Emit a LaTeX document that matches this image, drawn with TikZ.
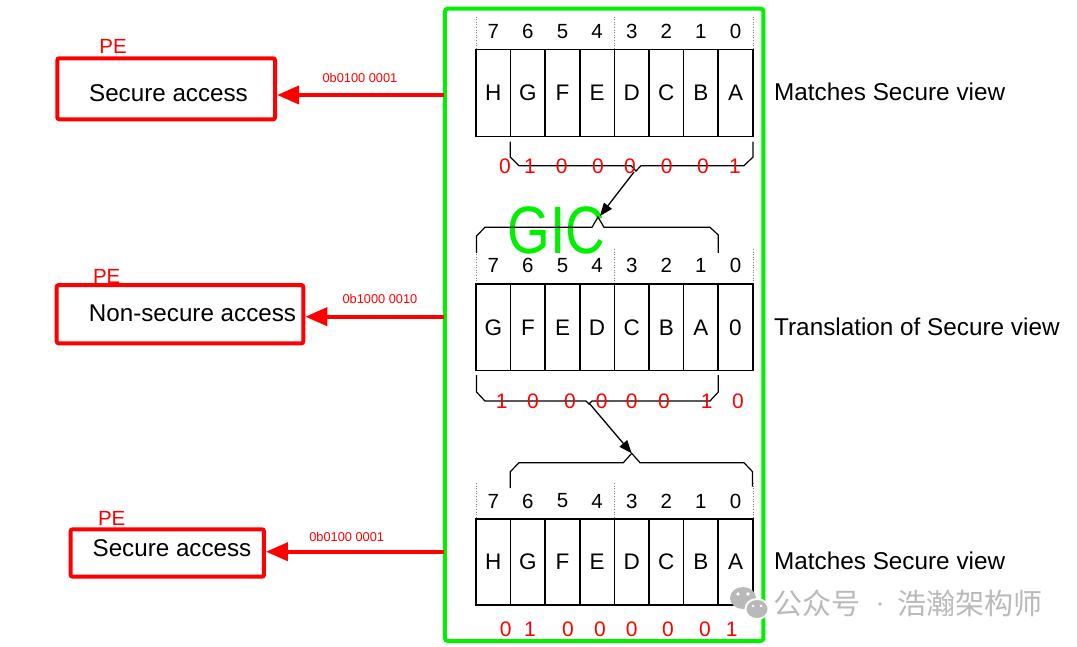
\documentclass[tikz,border=0pt]{standalone}
\usepackage{fontspec}
\setmainfont{Liberation Sans}
\newfontfamily\cjkfont{Noto Sans CJK SC}
\usetikzlibrary{arrows.meta}
\definecolor{gicgreen}{RGB}{0,240,0}
\definecolor{pered}{RGB}{255,0,0}
\definecolor{wmgray}{RGB}{185,185,185}
\tikzset{
  cell/.style={draw=black, line width=1.5pt, minimum width=34.6pt, minimum height=87pt, inner sep=0pt, font=\fontsize{22.5}{22.5}\selectfont},
  bitnum/.style={inner sep=0pt, font=\fontsize{20.5}{20.5}\selectfont},
  bitval/.style={inner sep=0pt, text=pered, font=\fontsize{21}{21}\selectfont},
  pebox/.style={draw=pered, line width=4pt, rounded corners=2pt, inner sep=0pt},
  petext/.style={font=\fontsize{24.2}{24.2}\selectfont, inner sep=0pt},
  pelabel/.style={text=pered, font=\fontsize{20.5}{20.5}\selectfont, inner sep=0pt},
  vallabel/.style={text=pered, font=\fontsize{12.8}{12.8}\selectfont, inner sep=0pt},
  view/.style={font=\fontsize{24.3}{24.3}\selectfont, anchor=west, inner sep=0pt},
  brace/.style={draw=black, line width=1.2pt, line join=miter},
  guide/.style={draw=gray, line width=0.6pt, dotted},
  redarrow/.style={draw=pered, line width=4pt, -{Triangle[length=22pt,width=18pt]}},
  blkarrow/.style={draw=black, line width=1.3pt, -{Triangle[length=13pt,width=10pt]}},
  wm/.style={text=wmgray, inner sep=0pt, font=\cjkfont\fontsize{29}{29}\selectfont},
}
\begin{document}
\begin{tikzpicture}[x=1pt,y=-1pt]
\useasboundingbox (0,0) rectangle (1077,647);

% GIC container
\node[draw=gicgreen, line width=4pt, rounded corners=3pt, minimum width=318.5pt, minimum height=632.5pt, inner sep=0pt] (gicbox) at (604.2,324.8) {};
\node[text=gicgreen, inner sep=0pt, font=\fontsize{67}{67}\selectfont, xscale=0.82] (gic) at (556.5,230) {GIC};

% dotted guides
\foreach \ya/\yb in {16.7/49, 249/284, 483/519}{
  \foreach \x in {476,614.3,753}{
    \draw[guide] (\x,\ya) -- (\x,\yb);
  }
}

% register 1
\foreach \l [count=\i from 0, evaluate=\i as \b using int(7-\i)] in {H,G,F,E,D,C,B,A}{
  \node[cell] (r1c\i) at (493.3+34.6*\i,92.8) {\l};
  \node[bitnum] (r1n\i) at (493.3+34.6*\i,31.7) {\b};
}
% register 2
\foreach \l [count=\i from 0, evaluate=\i as \b using int(7-\i)] in {G,F,E,D,C,B,A,0}{
  \node[cell, minimum height=86.7pt] (r2c\i) at (493.3+34.6*\i,327.3) {\l};
  \node[bitnum] (r2n\i) at (493.3+34.6*\i,265.5) {\b};
}
% register 3
\foreach \l [count=\i from 0, evaluate=\i as \b using int(7-\i)] in {H,G,F,E,D,C,B,A}{
  \node[cell, minimum height=86pt] (r3c\i) at (493.3+34.6*\i,562) {\l};
  \node[bitnum] (r3n\i) at (493.3+34.6*\i,501) {\b};
}

% braces
\draw[brace] (510.3,141.7) -- (510.3,157) -- (519,165.7) -- (631,165.7) -- (636,171) -- (641,165.7) -- (744,165.7) -- (753,157) -- (753,141.7);
\draw[brace] (476.5,253) -- (476.5,236) -- (485,227.3) -- (592,227.3) -- (598,217) -- (604,227.3) -- (710,227.3) -- (718.3,235) -- (718.3,253);
\draw[brace] (476.5,375) -- (476.5,392) -- (485,401) -- (586,401) -- (589,404) -- (592,401) -- (710,401) -- (718.3,392) -- (718.3,375);
\draw[brace] (510.3,488) -- (510.3,471.7) -- (519,462.7) -- (623.3,462.7) -- (631.7,453.3) -- (640,462.7) -- (744,462.7) -- (752.5,471.7) -- (752.5,486.7);

\coordinate (t1) at (634,172);
\coordinate (t2) at (600,216);
\coordinate (t3) at (589,403);
\coordinate (t4) at (631.7,453.3);
\draw[blkarrow] (t1) -- (t2);
\draw[blkarrow] (t3) -- (t4);

% bit values
\foreach \v/\x [count=\k] in {0/505,1/530,0/561.7,0/598,0/630,0/666.7,0/703,1/735}{
  \node[bitval] (v1\k) at (\x,166) {\v};
}
\foreach \v/\x [count=\k] in {1/501.7,0/533,0/570,0/601.7,0/631.7,0/664,1/706.7,0/738}{
  \node[bitval] (v2\k) at (\x,401) {\v};
}
\foreach \v/\x [count=\k] in {0/505.7,1/530,0/568,0/600,0/631.7,0/668,0/705,1/731.7}{
  \node[bitval] (v3\k) at (\x,629) {\v};
}

% right texts
\node[view] (m1) at (774,92) {Matches Secure view};
\node[view] (m2) at (774,327) {Translation of Secure view};
\node[view] (m3) at (774,561) {Matches Secure view};

% PE boxes
\node[pebox, minimum width=217.7pt, minimum height=61pt] (pe1) at (166.2,88.8) {};
\node[petext] (pe1t) at (168.5,92.7) {Secure access};
\node[pelabel] (pe1l) at (113,46.7) {PE};
\node[pebox, minimum width=246.6pt, minimum height=58.3pt] (pe2) at (180,314.2) {};
\node[petext] (pe2t) at (192.5,313.3) {Non-secure access};
\node[pelabel] (pe2l) at (106.7,276.7) {PE};
\node[pebox, minimum width=193.3pt, minimum height=47.4pt] (pe3) at (167.3,553) {};
\node[petext] (pe3t) at (172,548.3) {Secure access};
\node[pelabel] (pe3l) at (111.7,518.3) {PE};

% red arrows
\coordinate (s1) at (444,95);
\coordinate (s2) at (444,316.7);
\coordinate (s3) at (444,551.7);
\draw[redarrow] (s1) -- (pe1.east |- s1);
\draw[redarrow] (s2) -- (pe2.east |- s2);
\draw[redarrow] (s3) -- (pe3.east |- s3);
\node[vallabel] (l1) at (360,78.3) {0b0100 0001};
\node[vallabel] (l2) at (380,299.3) {0b1000 0010};
\node[vallabel] (l3) at (346.7,537.3) {0b0100 0001};

% watermark
\fill[wmgray] (743,598) ellipse (13 and 11);
\fill[white] (757,609) ellipse (12.5 and 11);
\fill[wmgray] (757,609) ellipse (10.5 and 9);
\fill[white] (738,594) circle (1.8) (748,594) circle (1.8) (753,606) circle (1.4) (761,606) circle (1.4);
\node[wm, anchor=west] (wm1) at (773,603) {公众号};
\fill[wmgray] (880,604) circle (1.8);
\node[wm, anchor=west] (wm2) at (897,603) {浩瀚架构师};
\end{tikzpicture}
\end{document}
